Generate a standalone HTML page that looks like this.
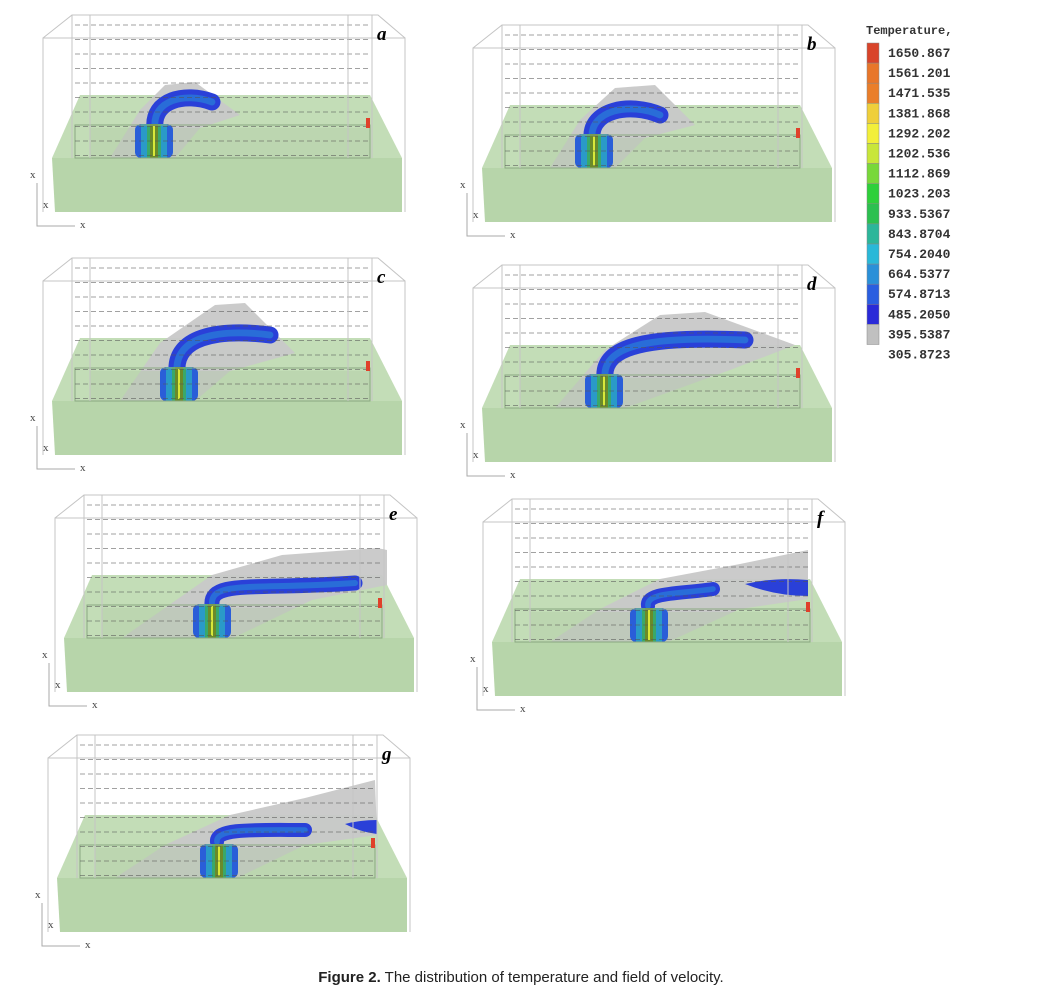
<!DOCTYPE html>
<html><head><meta charset="utf-8"><style>
html,body{margin:0;padding:0;background:#fff;}
body{width:1042px;height:993px;position:relative;overflow:hidden;}
#cap{position:absolute;top:969px;left:0;width:1042px;text-align:center;font:15px "Liberation Sans",sans-serif;color:#222;}
</style></head><body>
<svg id="s" width="1042" height="993" xmlns="http://www.w3.org/2000/svg" style="position:absolute;left:0;top:0"></svg>
<div id="cap"><b>Figure 2.</b> The distribution of temperature and field of velocity.</div>
<script>
const S=document.getElementById('s');let h='';
const panels=[
 {x:0,y:0,l:'a',c:135,g:'110,158 140,110 165,85 195,82 240,115 200,128 175,158',t:'M155,128 C152,100 185,92 212,102',tw:17},
 {x:430,y:10,l:'b',c:145,g:'120,158 150,110 185,78 225,75 265,115 215,128 185,158',t:'M162,128 C160,100 200,92 230,105',tw:17},
 {x:0,y:243,l:'c',c:160,g:'120,158 160,100 215,62 245,60 295,110 230,128 195,158',t:'M177,128 C175,95 215,85 270,92',tw:17},
 {x:430,y:250,l:'d',c:155,g:'125,158 175,100 230,65 275,62 365,95 300,120 195,158',t:'M175,128 C172,95 220,86 315,90',tw:17},
 {x:12,y:480,l:'e',c:181,g:'110,158 150,130 200,95 270,75 365,68 375,70 375,105 300,120 221,158',t:'M200,125 C198,100 240,110 343,103',tw:15},
 {x:440,y:484,l:'f',c:190,g:'110,158 160,125 220,95 300,80 368,66 368,115 300,125 228,158',t:'M208,122 C206,108 240,110 273,105',tw:14,b:'M305,100 Q335,93 368,96 L368,112 Q335,112 305,100Z'},
 {x:5,y:720,l:'g',c:195,g:'110,158 160,125 225,95 300,78 370,60 372,115 300,125 232,158',t:'M212,122 C210,108 250,110 300,110',tw:14,b:'M340,104 Q355,100 372,100 L372,114 Q355,112 340,104Z'}
];
for(const p of panels){
 h+=`<g transform="translate(${p.x},${p.y})">`;
 h+=`<polygon points="52,158 402,158 402,212 55,212" fill="#b7d5aa"/>`;
 h+=`<polygon points="80,95 370,95 402,158 52,158" fill="#c3ddb7"/>`;
 h+=`<polygon points="${p.g}" fill="#c8c8c8" opacity="0.95"/>`;
 h+=`<rect x="90" y="128" width="280" height="30" fill="#b0c9a4" opacity="0.35"/>`;
 h+=`<path d="${p.t}" fill="none" stroke="#2a40d8" stroke-width="${p.tw}" stroke-linecap="round"/>`;
 h+=`<path d="${p.t}" fill="none" stroke="#2a80d8" stroke-width="${p.tw*0.4}" stroke-linecap="round" opacity="0.7"/>`;
 if(p.b) h+=`<path d="${p.b}" fill="#2a40d8"/>`;
 const c=p.c;
 h+=`<rect x="${c}" y="124" width="38" height="34" rx="6" fill="#2a5ed8"/>`;
 h+=`<rect x="${c+6}" y="124" width="26" height="34" fill="#2a9ac8"/>`;
 h+=`<rect x="${c+12}" y="124" width="14" height="34" fill="#3aa86a"/>`;
 h+=`<rect x="${c+15}" y="124" width="8" height="34" fill="#6a8a2a"/>`;
 h+=`<rect x="${c+18}" y="126" width="2" height="30" fill="#d8e83a"/>`;
 h+=`<rect x="75" y="125" width="295" height="33" fill="none" stroke="#8aa880" stroke-width="1"/>`;
 for(let i=0;i<10;i++){const y=25+i*14.5;h+=`<line x1="75" y1="${y}" x2="370" y2="${y}" stroke="#555" stroke-width="1" stroke-dasharray="5,3" opacity="0.55"/>`;}
 h+=`<g fill="none" stroke="#c4c4c4" stroke-width="1"><polyline points="43,212 43,38 405,38 405,212"/><polyline points="43,38 72,15 378,15 405,38"/><line x1="72" y1="15" x2="72" y2="158"/><line x1="90" y1="15" x2="90" y2="158"/><line x1="372" y1="15" x2="372" y2="158"/><line x1="348" y1="15" x2="348" y2="158"/></g>`;
 h+=`<rect x="366" y="118" width="4" height="10" fill="#e0402a"/>`;
 h+=`<text x="377" y="40" font-family="Liberation Serif,serif" font-style="italic" font-weight="bold" font-size="19">${p.l}</text>`;
 h+=`<g font-family="Liberation Serif,serif" font-size="11" fill="#444"><text x="30" y="178">x</text><text x="43" y="208">x</text><text x="80" y="228">x</text></g>`;
 h+=`<polyline points="37,183 37,226 75,226" fill="none" stroke="#aaa"/>`;
 h+=`</g>`;
}
const cols=['#d9442a','#e8762a','#ea7e2a','#efcf3a','#f2ef3a','#c8e63a','#78d83a','#2ed03a','#2cc050','#2cb69a','#29b8d8','#2a90d8','#2a5ee0','#2a2ad8','#c0c0c0'];
const labs=['1650.867','1561.201','1471.535','1381.868','1292.202','1202.536','1112.869','1023.203','933.5367','843.8704','754.2040','664.5377','574.8713','485.2050','395.5387','305.8723'];
h+=`<text x="866" y="34" font-family="Liberation Mono,monospace" font-size="12" font-weight="bold" fill="#333">Temperature,</text>`;
cols.forEach((c,i)=>{h+=`<rect x="867" y="${43+i*20.1}" width="12" height="20.1" fill="${c}" stroke="#888" stroke-width="0.5"/>`;});
labs.forEach((t,i)=>{h+=`<text x="888" y="${57+i*20.1}" font-family="Liberation Mono,monospace" font-size="13" font-weight="bold" fill="#333">${t}</text>`;});
S.innerHTML=h;
</script>
</body></html>
